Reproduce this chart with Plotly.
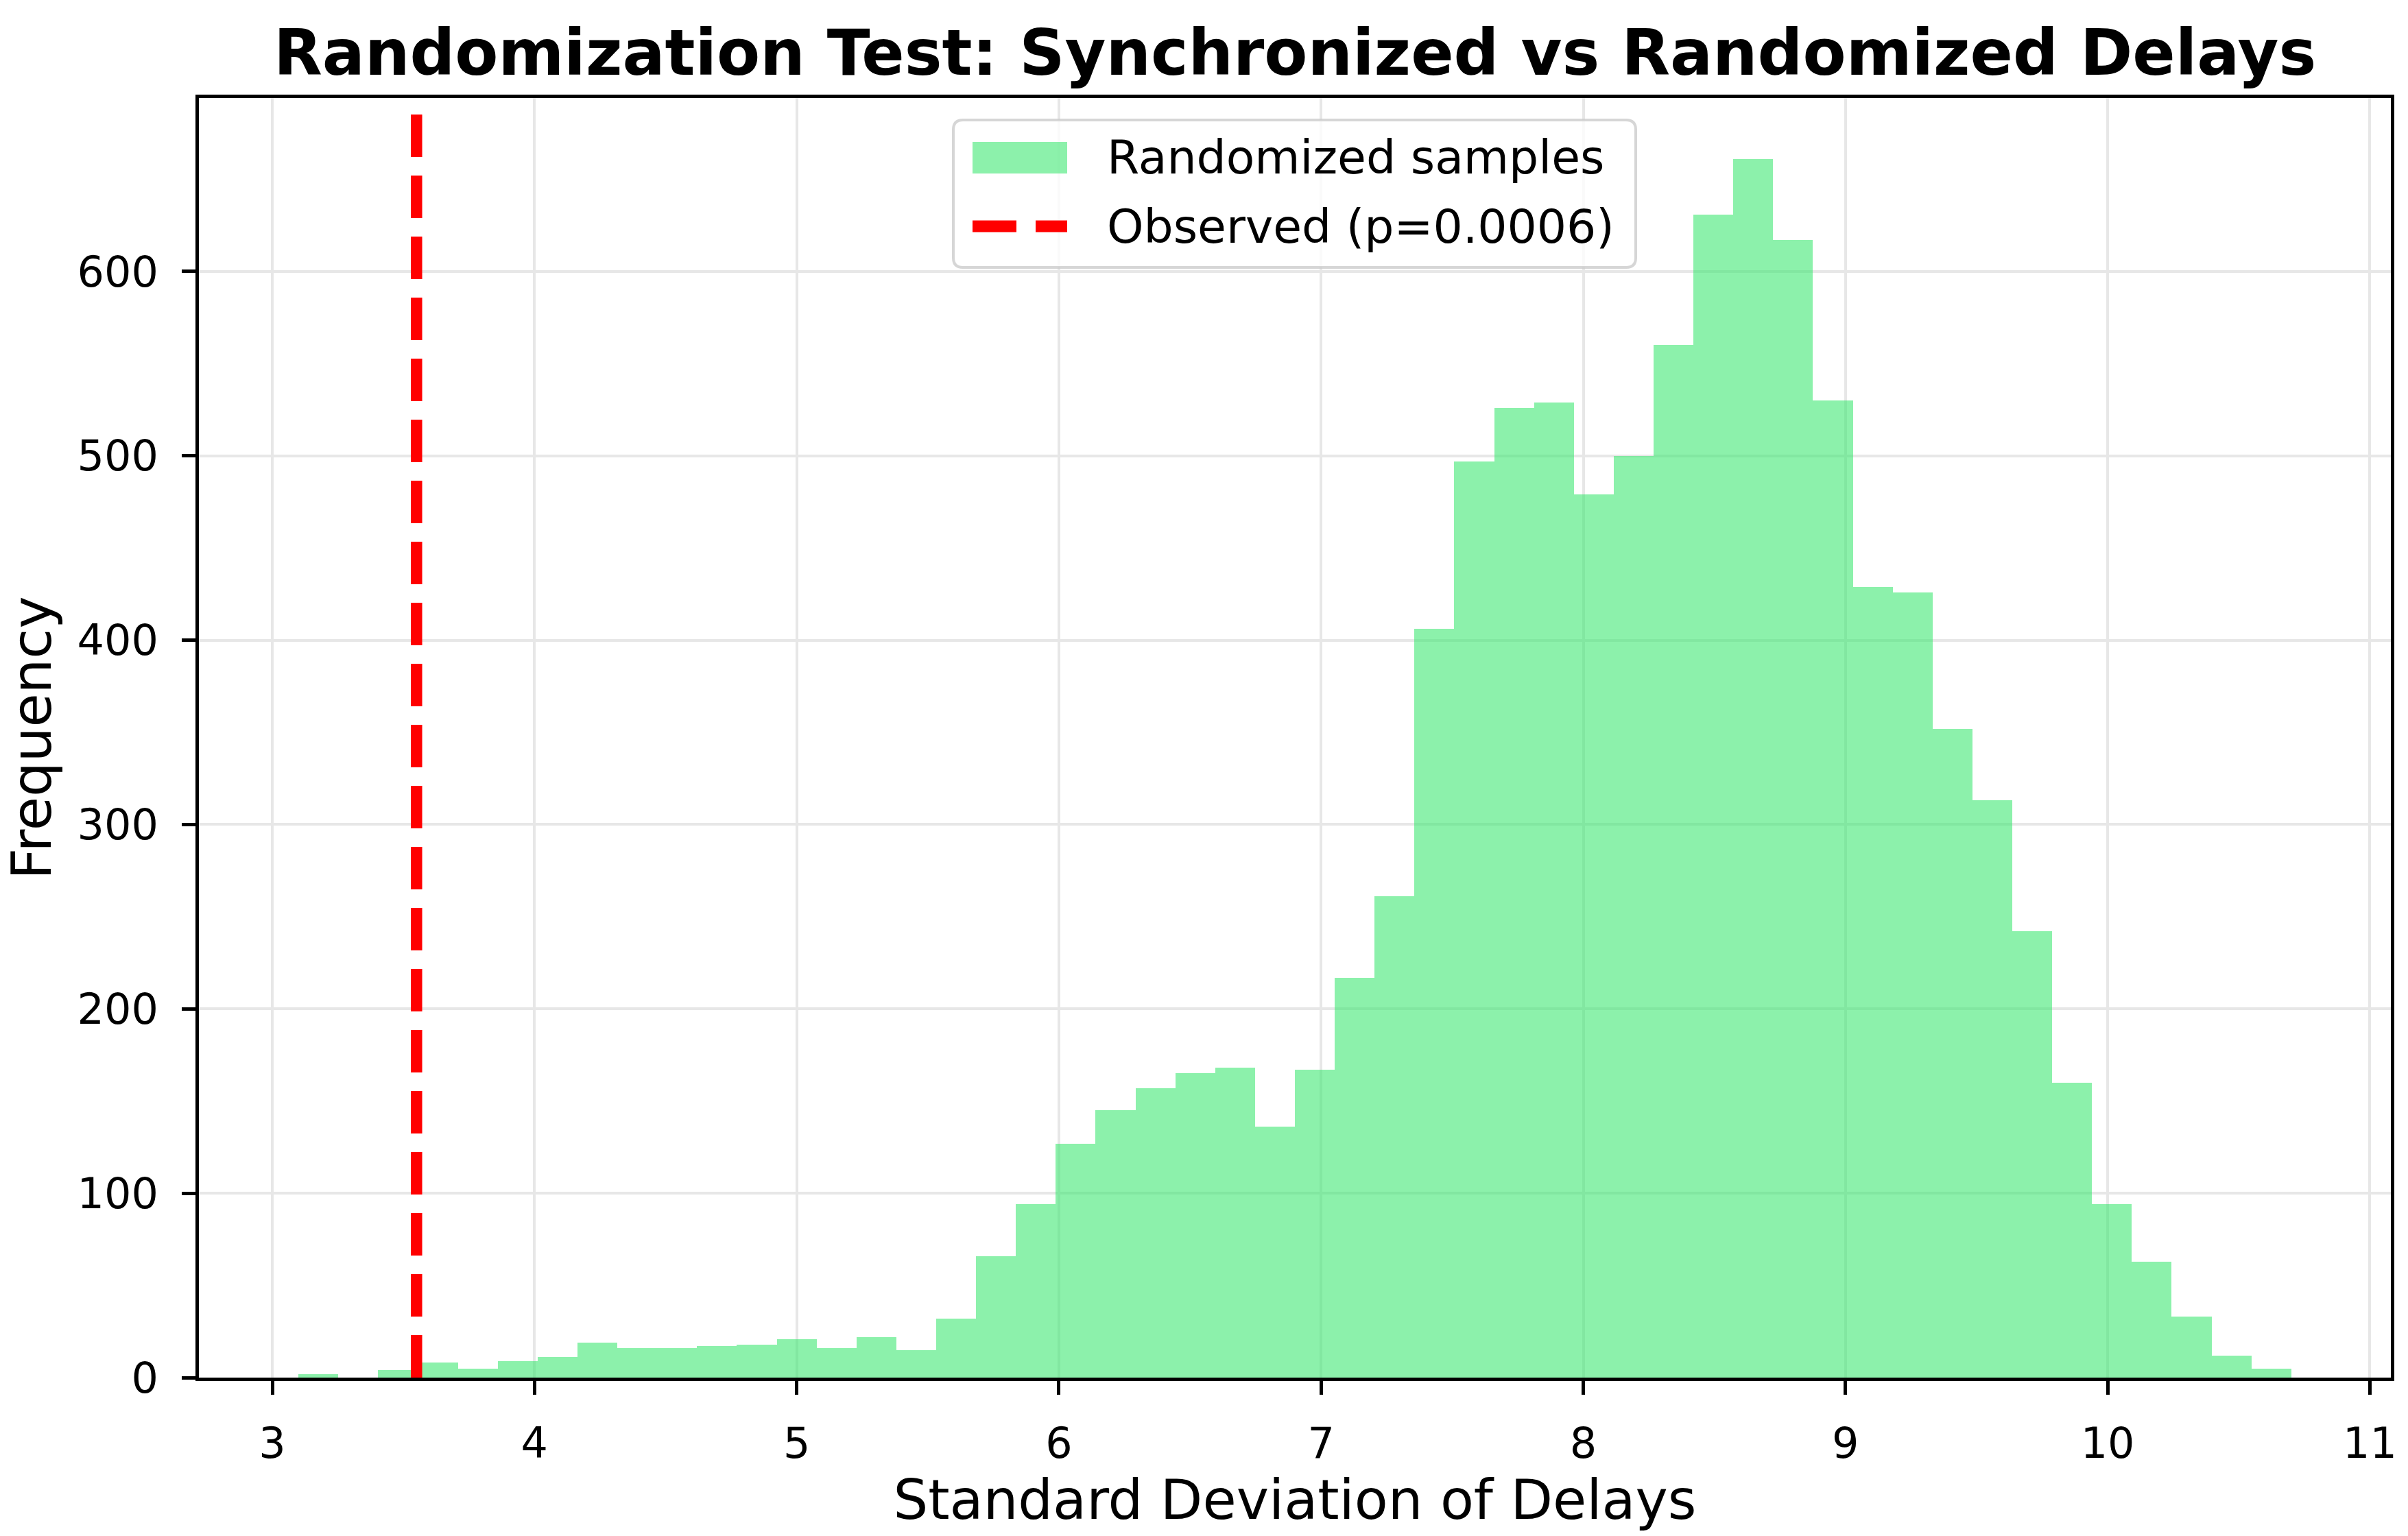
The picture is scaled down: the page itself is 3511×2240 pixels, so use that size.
import numpy as np
import plotly.graph_objects as go

# ---------------- data ----------------
bin_start = 3.10
bin_end = 10.70
n_bins = 50
counts = [2, 0, 4, 8, 5, 9, 11, 19, 16, 16,
          17, 18, 21, 16, 22, 15, 32, 66, 94, 127,
          145, 157, 165, 168, 136, 167, 217, 261, 406, 497,
          526, 529, 479, 500, 560, 631, 661, 617, 530, 429,
          426, 352, 313, 242, 160, 94, 63, 33, 12, 5]
observed = 3.55
p_value = 0.0006
x_ticks = [3, 4, 5, 6, 7, 8, 9, 10, 11]
y_ticks = [0, 100, 200, 300, 400, 500, 600]
title_text = "Randomization Test: Synchronized vs Randomized Delays"
x_label = "Standard Deviation of Delays"
y_label = "Frequency"
legend_labels = ["Randomized samples", f"Observed (p={p_value})"]

# ---------------- geometry ----------------
W, H = 3511, 2240
L, R, T, B = 290, 3486, 143, 2009      # axes box in px
AW, AH = R - L, B - T
FONT = "DejaVu Sans"
BAR_FILL = "rgba(64,232,115,0.6)"
RED = "#ff0000"

edges = np.linspace(bin_start, bin_end, n_bins + 1)
centers = (edges[:-1] + edges[1:]) / 2
width = edges[1] - edges[0]
span = bin_end - bin_start
x_range = [bin_start - 0.05 * span, bin_end + 0.05 * span]
y_range = [0, max(counts) * 1.05]


def px(xp):
    return (xp - L) / AW


def py(yp):
    return (B - yp) / AH


fig = go.Figure()
fig.add_trace(go.Bar(
    x=centers, y=counts, width=width,
    marker=dict(color=BAR_FILL, line=dict(width=0)),
    name=legend_labels[0], showlegend=False,
))

# observed line
fig.add_shape(type="line", xref="x", yref="paper", x0=observed, x1=observed,
              y0=0, y1=1, line=dict(color=RED, width=16.5, dash="62px,27px"),
              layer="above")

# ---------------- custom legend ----------------
lx0, lx1, ly0, ly1 = 1390, 2385, 175, 390
r = 14
rx, ry = r / AW, r / AH
X0, X1, Y0, Y1 = px(lx0), px(lx1), py(ly1), py(ly0)
path = (f"M {X0+rx},{Y0} L {X1-rx},{Y0} Q {X1},{Y0} {X1},{Y0+ry} "
        f"L {X1},{Y1-ry} Q {X1},{Y1} {X1-rx},{Y1} L {X0+rx},{Y1} "
        f"Q {X0},{Y1} {X0},{Y1-ry} L {X0},{Y0+ry} Q {X0},{Y0} {X0+rx},{Y0} Z")
fig.add_shape(type="path", xref="paper", yref="paper", path=path,
              fillcolor="rgba(255,255,255,0.8)",
              line=dict(color="rgba(204,204,204,0.8)", width=4), layer="above")
fig.add_shape(type="rect", xref="paper", yref="paper",
              x0=px(1418), x1=px(1556), y0=py(253), y1=py(207),
              fillcolor=BAR_FILL, line=dict(width=0), layer="above")
fig.add_shape(type="line", xref="paper", yref="paper",
              x0=px(1418), x1=px(1556), y0=py(330), y1=py(330),
              line=dict(color=RED, width=17, dash="64px,28px"), layer="above")
for lab, yc in zip(legend_labels, [230, 330]):
    fig.add_annotation(xref="paper", yref="paper", x=px(1612), y=py(yc),
                       xanchor="left", yanchor="middle", text=lab, showarrow=False,
                       font=dict(family=FONT, size=68, color="black"))

# title
fig.add_annotation(xref="paper", yref="paper", x=px((L + R) / 2), y=py(78),
                   xanchor="center", yanchor="middle", text=f"<b>{title_text}</b>",
                   showarrow=False, font=dict(family=FONT, size=92, color="black"))

axis_common = dict(
    showline=True, linecolor="black", linewidth=4.5, mirror=True,
    ticks="outside", ticklen=20, tickwidth=4.5, tickcolor="black",
    showgrid=True, gridcolor="#e7e7e7", gridwidth=4, zeroline=False,
    tickfont=dict(family=FONT, size=62, color="black"),
    automargin=True,
)
fig.update_xaxes(range=x_range, tickvals=x_ticks, ticklabelstandoff=18,
                 title=dict(text=x_label, standoff=8,
                            font=dict(family=FONT, size=80, color="black")),
                 **axis_common)
fig.update_yaxes(range=y_range, tickvals=y_ticks, ticklabelstandoff=22,
                 title=dict(text=y_label, standoff=19,
                            font=dict(family=FONT, size=80, color="black")),
                 **axis_common)

fig.update_layout(
    width=W, height=H, autosize=False,
    margin=dict(l=L, r=W - R, t=T, b=H - B, pad=0),
    paper_bgcolor="white", plot_bgcolor="white",
    bargap=0, showlegend=False,
    font=dict(family=FONT, color="black"),
)

fig.write_html("out.html", config={"displayModeBar": False},
               post_script="document.body.style.margin='0';document.body.style.padding='0';")
